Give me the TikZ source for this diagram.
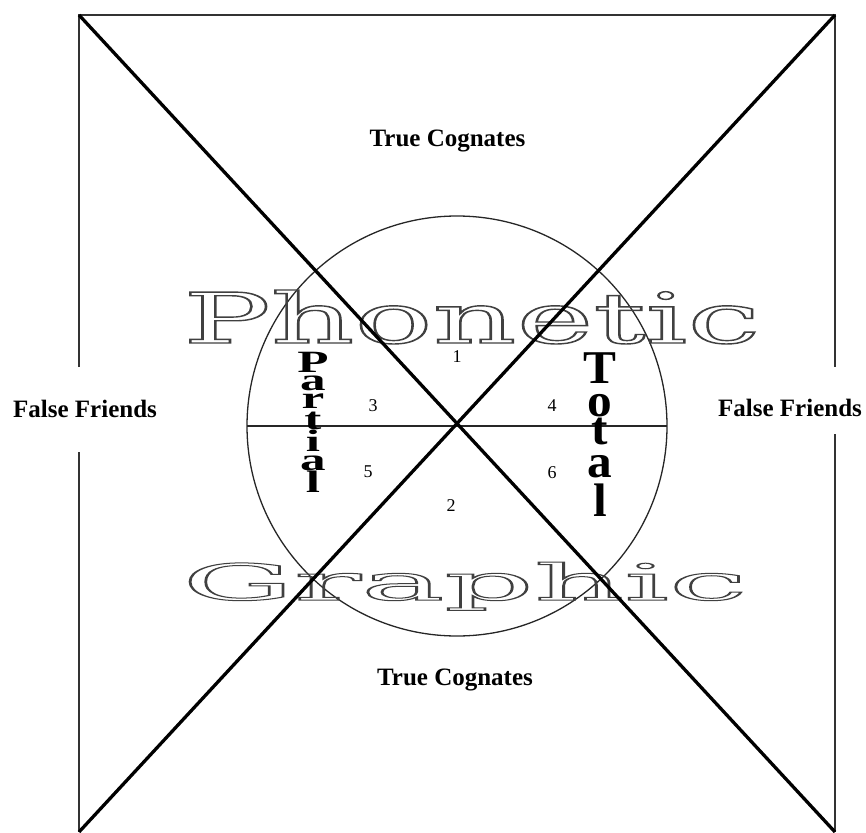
\documentclass[tikz,border=0pt]{standalone}
\usepackage{fontspec}
\usepackage{graphicx}
\setmainfont{Liberation Serif}
\newfontfamily\dvs{DejaVu Serif}
\newcommand\outlinetext[1]{\special{pdf:literal direct 1 Tr 1.2 w}#1\special{pdf:literal direct 0 Tr}}
\newcommand\pletter[1]{\scalebox{1.65}[1]{\fontsize{31}{31}\selectfont\bfseries #1}}
\newcommand\tletter[1]{\scalebox{1.05}[1]{\fontsize{47}{47}\selectfont\bfseries #1}}
\tikzset{
  edge/.style={line width=1.8pt, draw=black!80},
  diag/.style={line width=3.3pt, draw=black},
  thin/.style={line width=1.3pt, draw=black!85},
  lbl/.style={font=\fontsize{25}{25}\selectfont\bfseries, inner sep=0pt, anchor=base},
  num/.style={font=\fontsize{18}{18}\selectfont, inner sep=0pt},
  big/.style={inner sep=0pt, anchor=base west, text=black!75},
  col/.style={inner sep=0pt, anchor=base}
}
\begin{document}
\begin{tikzpicture}[x=1pt,y=-1pt]
\useasboundingbox (0,0) rectangle (866,832);
% corners
\coordinate (tl) at (79,15);
\coordinate (tr) at (835,15);
\coordinate (bl) at (79,832);
\coordinate (br) at (835,832);
\coordinate (lgap1) at (79,367);
\coordinate (lgap2) at (79,452);
\coordinate (rgap1) at (835,367);
\coordinate (rgap2) at (835,434);
\coordinate (c) at (457,426);
\coordinate (hl) at (247,426);
\coordinate (hr) at (667,426);
% frame
\draw[edge] (lgap1) -- (tl) -- (tr) -- (rgap1);
\draw[edge] (lgap2) -- (bl);
\draw[edge] (rgap2) -- (br);
% circle and horizontal
\draw[thin] (c) circle[radius=210];
\draw[thin] (hl) -- (hr);
% big outline words
\node[big] (phon) at (183,343) {\resizebox{577pt}{53pt}{\fontsize{60}{60}\dvs\outlinetext{Phonetic}}};
\node[big] (graph) at (182,600) {\resizebox{565pt}{38pt}{\fontsize{60}{60}\dvs\outlinetext{Graphic}}};
% diagonals
\draw[diag] (tl) -- (br);
\draw[diag] (tr) -- (bl);
% labels
\node[lbl] (tc1) at (447.5,146) {True Cognates};
\node[lbl] (tc2) at (455,685) {True Cognates};
\node[lbl] (ff1) at (85,417) {False Friends};
\node[lbl] (ff2) at (790,416) {False Friends};
% numbers
\node[num] (n1) at (457,357) {1};
\node[num] (n2) at (451,506) {2};
\node[num] (n3) at (373,406) {3};
\node[num] (n4) at (552,406) {4};
\node[num] (n5) at (368,472) {5};
\node[num] (n6) at (552,473) {6};
% Partial
\node[col] (p1) at (313,372) {\pletter{P}};
\node[col] (p2) at (313,390) {\pletter{a}};
\node[col] (p3) at (313,408) {\pletter{r}};
\node[col] (p4) at (313,429) {\pletter{t}};
\node[col] (p5) at (313,451) {\pletter{i}};
\node[col] (p6) at (313,470) {\pletter{a}};
\node[col] (p7) at (313,492) {\pletter{l}};
% Total
\node[col] (t1) at (600,383) {\tletter{T}};
\node[col] (t2) at (600,416) {\tletter{o}};
\node[col] (t3) at (600,444) {\tletter{t}};
\node[col] (t4) at (600,477) {\tletter{a}};
\node[col] (t5) at (600,516) {\tletter{l}};
\end{tikzpicture}
\end{document}
